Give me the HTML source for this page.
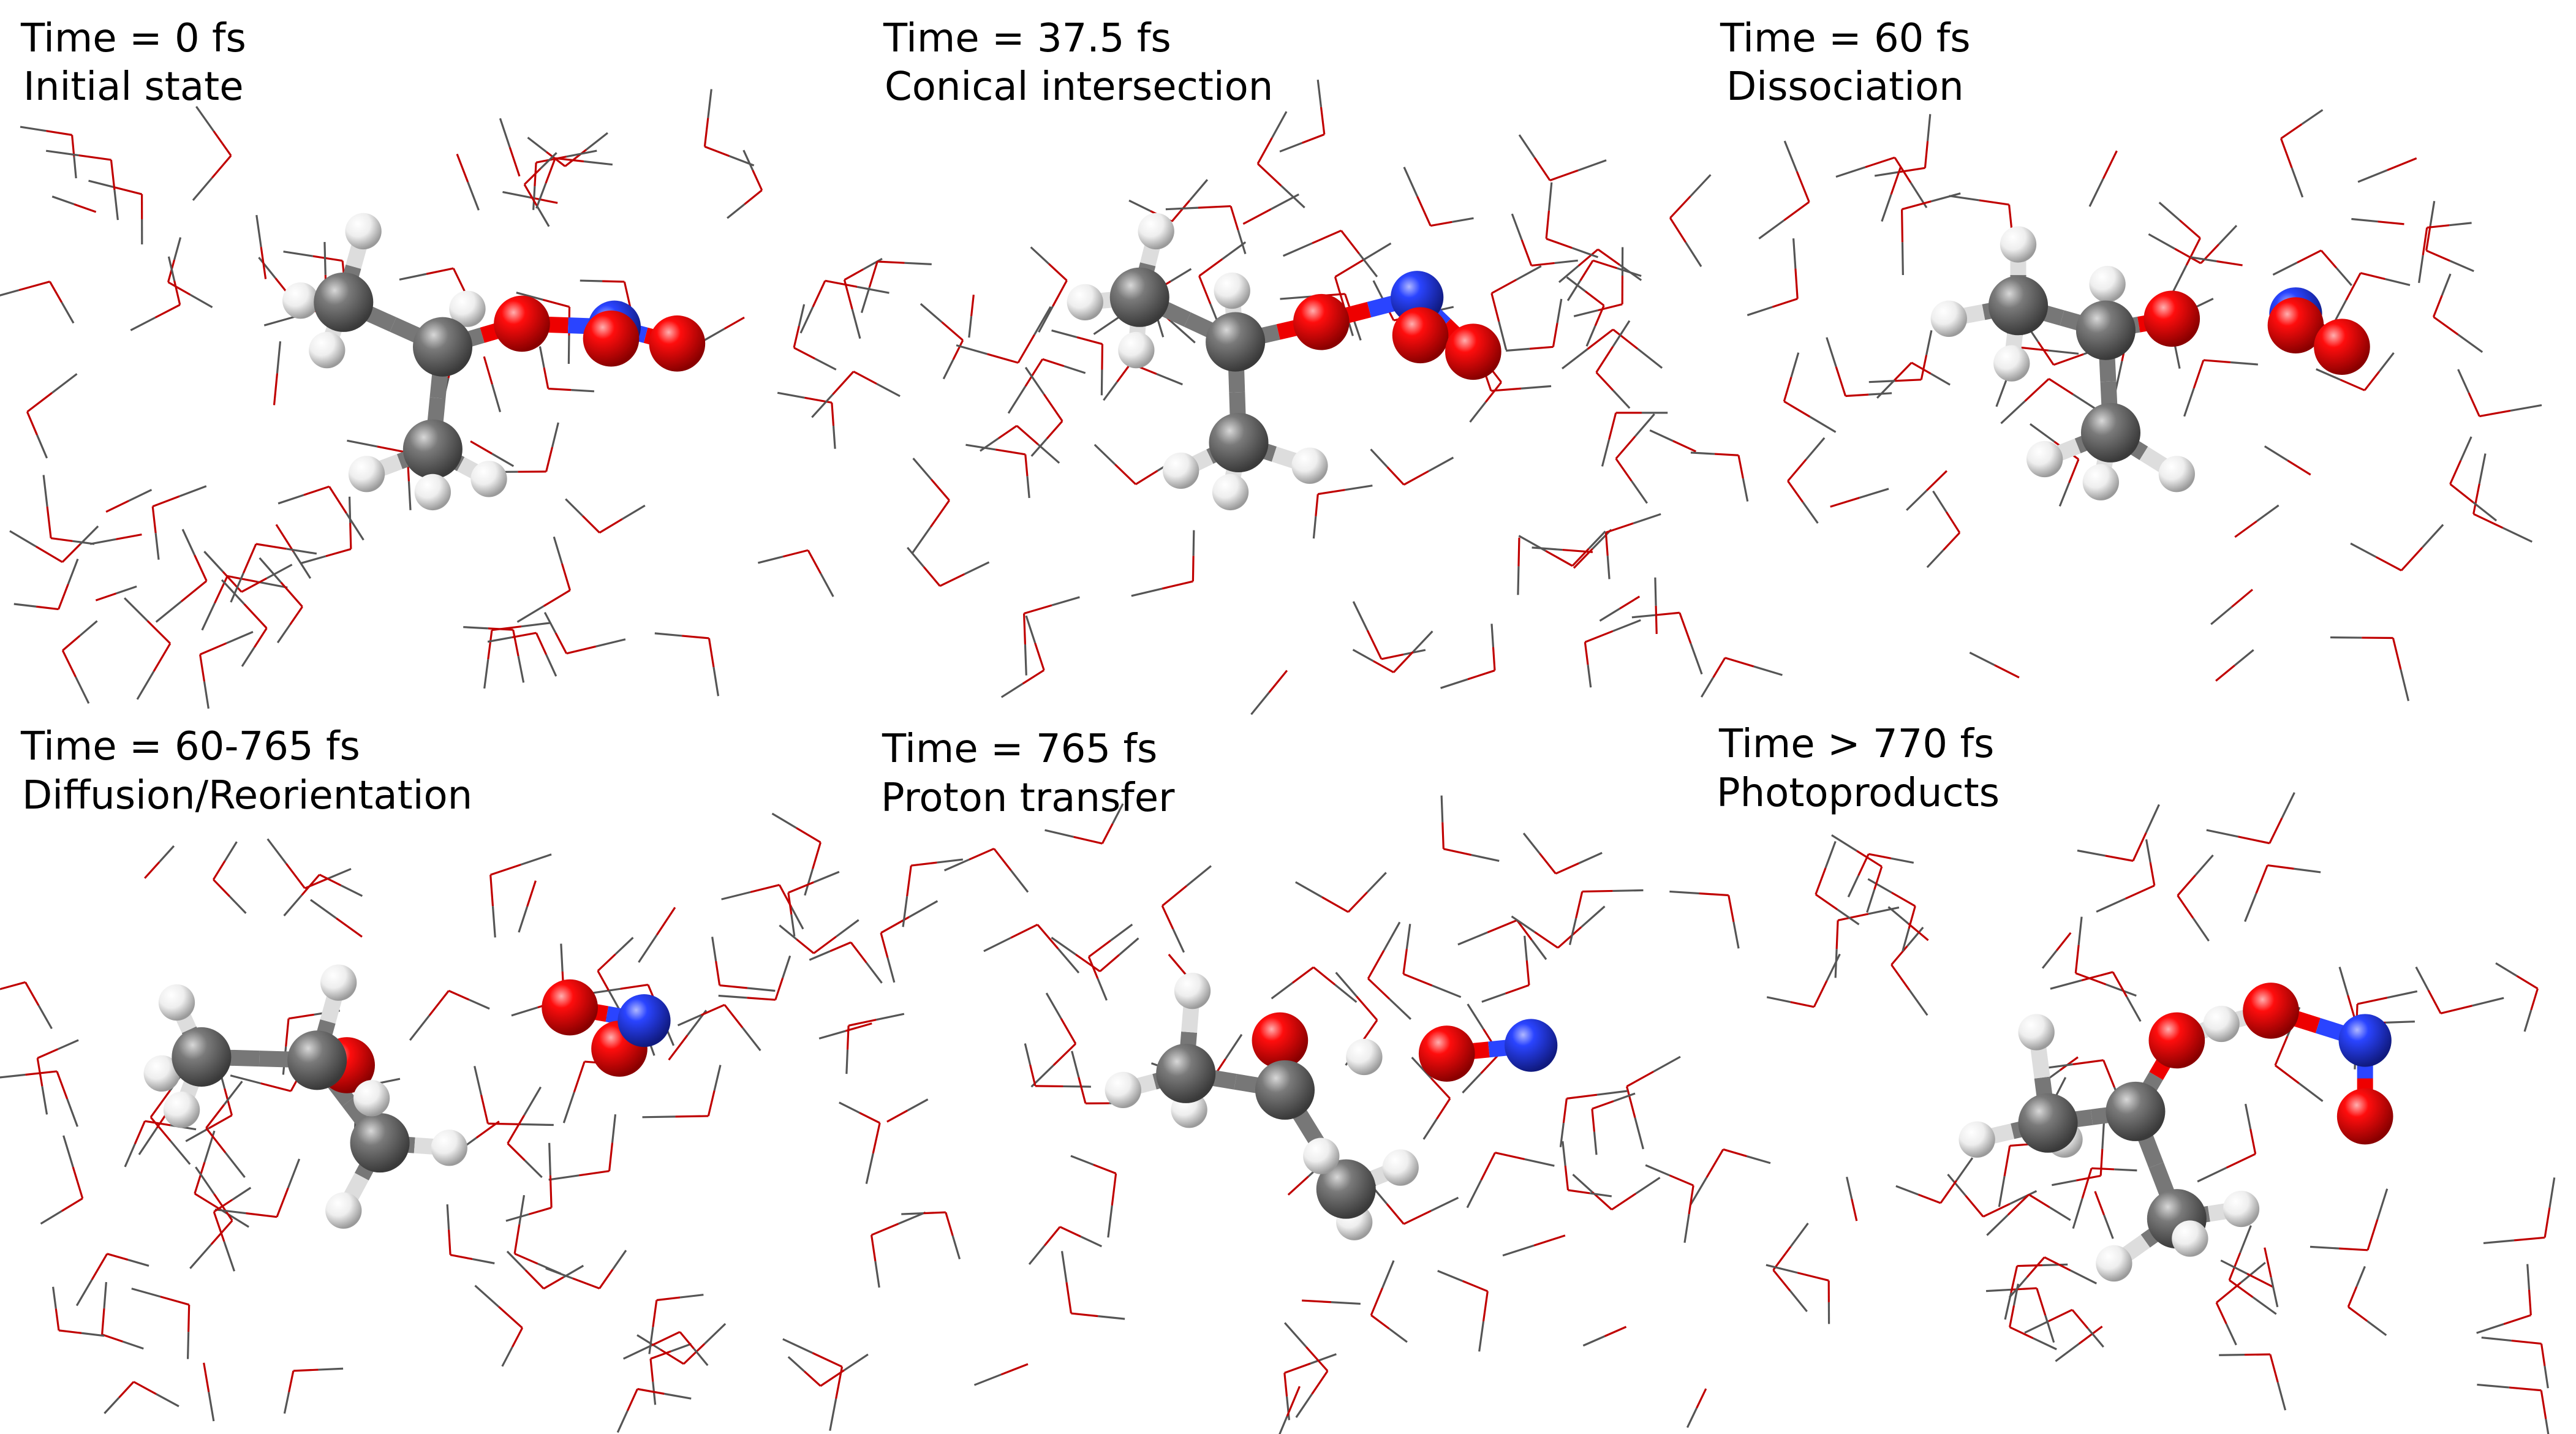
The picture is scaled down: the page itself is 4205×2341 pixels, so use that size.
<!DOCTYPE html>
<html><head><meta charset="utf-8"><style>
html,body{margin:0;padding:0;background:#fff;width:4205px;height:2341px;overflow:hidden}
svg{display:block}
text{font-family:"DejaVu Sans","Liberation Sans",sans-serif;font-size:64px;fill:#000}
</style></head><body>
<svg id="s" width="4205" height="2341" viewBox="0 0 4205 2341" xmlns="http://www.w3.org/2000/svg">
<defs>
<radialGradient id="gC" cx="35%" cy="30%" r="70%"><stop offset="0" stop-color="#d8d8d8"/><stop offset="0.35" stop-color="#7a7a7a"/><stop offset="1" stop-color="#3a3a3a"/></radialGradient>
<radialGradient id="gH" cx="35%" cy="30%" r="70%"><stop offset="0" stop-color="#ffffff"/><stop offset="0.5" stop-color="#eeeeee"/><stop offset="1" stop-color="#9a9a9a"/></radialGradient>
<radialGradient id="gO" cx="35%" cy="30%" r="70%"><stop offset="0" stop-color="#ffb0b0"/><stop offset="0.3" stop-color="#ff0d0d"/><stop offset="1" stop-color="#8a0000"/></radialGradient>
<radialGradient id="gN" cx="35%" cy="30%" r="70%"><stop offset="0" stop-color="#b0b8ff"/><stop offset="0.3" stop-color="#2a44ff"/><stop offset="1" stop-color="#101a80"/></radialGradient>
</defs>
<g id="water"></g>
<g id="mol"></g>
<text x="34" y="84">Time = 0 fs</text>
<text x="38" y="163">Initial state</text>
<text x="1442" y="84">Time = 37.5 fs</text>
<text x="1444" y="163">Conical intersection</text>
<text x="2808" y="84">Time = 60 fs</text>
<text x="2818" y="163">Dissociation</text>
<text x="34" y="1240">Time = 60-765 fs</text>
<text x="36" y="1320">Diffusion/Reorientation</text>
<text x="1440" y="1244">Time = 765 fs</text>
<text x="1438" y="1324">Proton transfer</text>
<text x="2806" y="1236">Time &gt; 770 fs</text>
<text x="2802" y="1316">Photoproducts</text>
</svg>
<script>
(function(){
var NS="http://www.w3.org/2000/svg",K=2.696;
var seed=12345;function r(){seed=(seed*16807)%2147483647;return (seed-1)/2147483646;}
function el(p,t,a){var e=document.createElementNS(NS,t);for(var k in a)e.setAttribute(k,a[k]);p.appendChild(e);return e;}
var W=document.getElementById('water'),M=document.getElementById('mol');
function line(x1,y1,x2,y2,c){el(W,'line',{x1:x1,y1:y1,x2:x2,y2:y2,stroke:c,'stroke-width':3.2});}
var panels=[[15,460,80,420],[460,985,80,420],[945,1550,80,420],[15,460,510,850],[460,985,510,850],[945,1550,510,850]];
panels.forEach(function(p){
 for(var i=0;i<58;i++){
  var ox=(p[0]+r()*(p[1]-p[0]))*K,oy=(p[2]+r()*(p[3]-p[2]))*K;
  var a=r()*Math.PI*2,b=a+1.82;
  var mode=r();
  [a,b].forEach(function(ang,j){
   if(mode<0.2&&j==1)return;
   var L=(26+r()*14)*K;
   var hx=ox+Math.cos(ang)*L,hy=oy+Math.sin(ang)*L,mx=(ox+hx)/2,my=(oy+hy)/2;
   line(ox,oy,mx,my,'#c00000');line(mx,my,hx,hy,'#555');
  });
 }
});
var col={C:'#777',H:'#ddd',O:'#e00',N:'#2a44ff'},rad={C:18,H:11,O:17,N:16},gr={C:'gC',H:'gH',O:'gO',N:'gN'};
function mol(atoms,bonds){
 bonds.forEach(function(b){var A=atoms[b[0]],B=atoms[b[1]];var mx=(A[1]+B[1])/2,my=(A[2]+B[2])/2;
  el(M,'line',{x1:A[1]*K,y1:A[2]*K,x2:mx*K,y2:my*K,stroke:col[A[0]],'stroke-width':26});
  el(M,'line',{x1:mx*K,y1:my*K,x2:B[1]*K,y2:B[2]*K,stroke:col[B[0]],'stroke-width':26});});
 atoms.forEach(function(a){el(M,'circle',{cx:a[1]*K,cy:a[2]*K,r:rad[a[0]]*K,fill:'url(#'+gr[a[0]]+')'});});
}
mol([['H',220,140],['H',182,182],['H',198,212],['C',208,183],['H',283,187],['C',268,210],['H',222,287],['H',296,290],['C',262,272],['H',262,298],['O',316,196],['N',372,198],['O',370,205],['O',410,208]],
 [[3,0],[3,1],[3,2],[3,5],[5,4],[5,8],[8,6],[8,7],[8,9],[5,10],[10,11],[11,13],[11,12]]);
mol([['H',700,140],['H',657,183],['H',688,212],['C',690,180],['H',746,176],['C',748,207],['H',715,285],['H',793,282],['C',750,268],['H',745,298],['O',800,195],['N',858,180],['O',860,203],['O',892,213]],
 [[3,0],[3,1],[3,2],[3,5],[5,4],[5,8],[8,6],[8,7],[8,9],[5,10],[10,11],[11,13],[11,12]]);
mol([['H',1222,148],['H',1180,193],['H',1218,220],['C',1222,185],['H',1276,172],['C',1275,200],['H',1238,278],['H',1318,287],['C',1278,262],['H',1272,292],['O',1315,193],['N',1390,190],['O',1390,197],['O',1418,210]],
 [[3,0],[3,1],[3,2],[3,5],[5,4],[5,8],[8,6],[8,7],[8,9],[5,10],[11,13],[11,12]]);
mol([['O',210,645],['H',107,607],['H',98,650],['H',110,672],['C',122,640],['H',205,595],['C',192,642],['H',272,695],['H',208,733],['C',230,692],['H',225,665],['O',375,635],['N',390,618],['O',345,610]],
 [[4,1],[4,2],[4,3],[4,6],[6,5],[6,9],[9,7],[9,8],[9,10],[6,0],[12,11],[12,13]]);
mol([['O',775,630],['H',722,600],['H',680,660],['H',720,672],['C',718,650],['C',778,660],['H',820,740],['H',848,707],['C',815,720],['H',800,700],['H',826,640],['O',876,638],['N',927,633]],
 [[4,1],[4,2],[4,3],[4,5],[5,0],[5,8],[8,6],[8,7],[8,9],[11,12]]);
mol([['H',1233,625],['H',1197,690],['H',1250,690],['C',1240,680],['O',1318,630],['C',1293,673],['H',1280,765],['H',1357,732],['C',1318,738],['H',1326,750],['H',1345,620],['O',1375,612],['N',1432,630],['O',1432,676]],
 [[3,0],[3,1],[3,2],[3,5],[5,4],[5,8],[8,6],[8,7],[8,9],[4,10],[10,11],[11,12],[12,13]]);
})();
</script>
</body></html>
